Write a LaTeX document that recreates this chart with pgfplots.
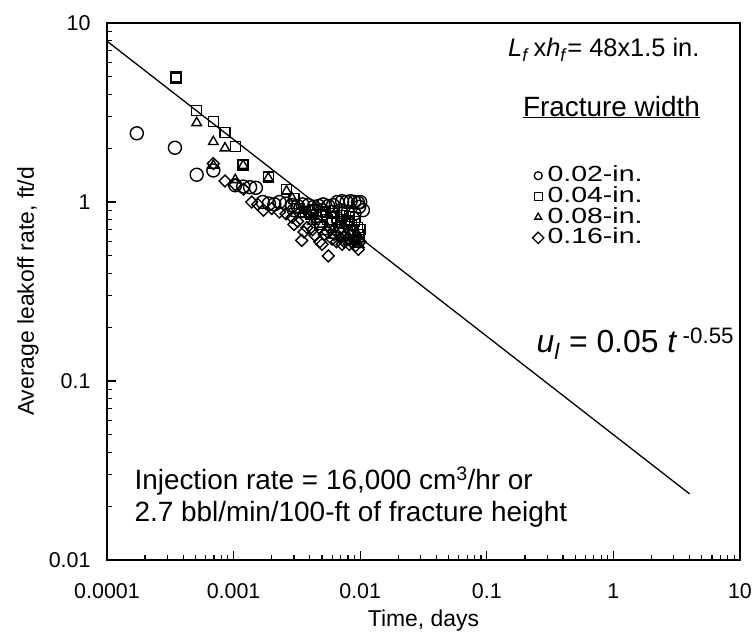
\documentclass[border=0pt]{standalone}
\usepackage{pgfplots}
\pgfplotsset{compat=1.18}
\usepackage{fontspec}
\setmainfont{Liberation Sans}
\newfontfamily\legfont[FakeStretch=1.3]{Liberation Sans}
\begin{document}
\begin{tikzpicture}
\begin{axis}[
  at={(0,0)}, anchor=south west,
  scale only axis, width=633bp, height=537bp,
  xmode=log, ymode=log,
  xmin=1e-4, xmax=10, ymin=0.01, ymax=10,
  xtick={1e-4,1e-3,1e-2,1e-1,1,10},
  xticklabels={0.0001,0.001,0.01,0.1,1,10},
  minor xtick={2e-4,3e-4,4e-4,5e-4,6e-4,7e-4,8e-4,9e-4,2e-3,3e-3,4e-3,5e-3,6e-3,7e-3,8e-3,9e-3,0.02,0.03,0.04,0.05,0.06,0.07,0.08,0.09,0.2,0.3,0.4,0.5,0.6,0.7,0.8,0.9,2,3,4,5,6,7,8,9},
  ytick={0.01,0.1,1,10},
  yticklabels={0.01,0.1,1,10},
  minor ytick={0.02,0.03,0.04,0.05,0.06,0.07,0.08,0.09,0.2,0.3,0.4,0.5,0.6,0.7,0.8,0.9,2,3,4,5,6,7,8,9},
  tick align=inside, xtick pos=bottom, ytick pos=left,
  major tick length=9bp, minor tick length=5bp,
  every tick/.style={black, line width=1.2bp},
  axis line style={line width=1.5bp},
  /pgf/number format/assume math mode=true,
  tick label style={font=\fontsize{21.5}{25}\selectfont},
  xticklabel style={yshift=-20bp},
  yticklabel style={xshift=-13bp},
  label style={font=\fontsize{23}{26}\selectfont},
  xlabel={Time, days},
  ylabel={Average leakoff rate, ft/d},
  xlabel style={at={(rel axis cs:0.5,-0.1136)}, anchor=center},
  ylabel style={at={(rel axis cs:-0.1248,0.5)}, anchor=center},
  legend style={draw=none, fill=none, at={(rel axis cs:0.672,0.7346)}, anchor=north west,
    font=\legfont\fontsize{22}{22}\selectfont, row sep=0.7bp, inner sep=0pt,
    nodes={inner sep=0pt, text height=16bp, text depth=4bp}},
  legend cell align=left,
  legend image code/.code={\draw[#1, mark size=4bp, line width=1.3bp] plot coordinates {(0.12cm,0cm)};},
  clip=false,
]
\addplot[only marks, mark=o, mark size=6.5bp, line width=1.4bp, black] coordinates {
(1.72e-4,2.42) (3.44e-4,2.01) (5.11e-4,1.42) (6.92e-4,1.50) (1.03e-3,1.24) (1.19e-3,1.22)
(1.35e-3,1.21) (1.5e-3,1.2) (1.7e-3,1.0) (1.9e-3,0.98) (2.1e-3,0.97) (2.3e-3,1.0)
(2.6e-3,0.98) (2.9e-3,0.96) (3.2e-3,0.95) (3.5e-3,0.97) (3.9e-3,0.96) (4.3e-3,0.94)
(4.7e-3,0.95) (5.1e-3,0.97) (5.6e-3,0.95) (6.1e-3,0.96) (6.6e-3,1.0) (7.2e-3,1.01)
(7.8e-3,1.0) (8.4e-3,1.01) (9.0e-3,1.0) (9.6e-3,0.99) (1.05e-2,0.90) (6.0e-3,0.88)
(7.0e-3,0.90) (8.0e-3,0.88) (9.0e-3,0.86) (3.0e-3,0.90) (4.0e-3,0.88) (5.0e-3,0.90)
(1.0e-2,1.0) (9.8e-3,0.94)};
\addlegendentry{\,0.02-in.}
\addplot[only marks, mark=square, mark size=5bp, line width=1.4bp, black] coordinates {
(3.5e-4,5.0) (3.5e-4,4.9) (5.11e-4,3.24) (6.92e-4,2.81) (8.55e-4,2.44) (1.04e-3,2.04)
(1.19e-3,1.61) (1.88e-3,1.38) (2.62e-3,1.17) (3.0e-3,1.05) (3.3e-3,0.92) (3.7e-3,0.88)
(4.1e-3,0.85) (4.5e-3,0.82) (5.0e-3,0.85) (5.5e-3,0.80) (6.0e-3,0.78) (6.5e-3,0.82)
(7.0e-3,0.80) (7.5e-3,0.76) (8.0e-3,0.79) (8.5e-3,0.75) (9.0e-3,0.78) (9.5e-3,0.72)
(1.0e-2,0.70) (4.3e-3,0.90) (5.3e-3,0.88) (6.2e-3,0.86) (7.2e-3,0.84) (8.2e-3,0.83)
(9.2e-3,0.82) (4.8e-3,0.75) (6.8e-3,0.72) (8.8e-3,0.70) (9.8e-3,0.66)};
\addlegendentry{\,0.04-in.}
\addplot[only marks, mark=triangle, mark size=5.5bp, line width=1.4bp, black] coordinates {
(5.11e-4,2.77) (6.92e-4,2.17) (8.55e-4,2.0) (6.92e-4,1.60) (1.03e-3,1.33) (1.19e-3,1.60)
(1.88e-3,1.36) (2.62e-3,1.15) (2.9e-3,1.05) (3.2e-3,0.95) (3.6e-3,0.90) (4.0e-3,0.85)
(4.5e-3,0.80) (5.0e-3,0.75) (5.5e-3,0.72) (6.0e-3,0.70) (6.5e-3,0.68) (7.0e-3,0.70)
(7.5e-3,0.66) (8.0e-3,0.65) (8.5e-3,0.68) (9.0e-3,0.64) (9.5e-3,0.66) (1.0e-2,0.62)
(3.4e-3,0.85) (4.2e-3,0.78) (5.2e-3,0.68) (6.2e-3,0.65) (7.2e-3,0.62) (8.2e-3,0.60)
(9.2e-3,0.60) (9.8e-3,0.58) (6.8e-3,0.75) (8.8e-3,0.72)};
\addlegendentry{\,0.08-in.}
\addplot[only marks, mark=square, mark options={rotate=45}, mark size=4.2bp, line width=1.4bp, black] coordinates {
(6.92e-4,1.64) (8.55e-4,1.31) (1.03e-3,1.25) (1.2e-3,1.18) (1.39e-3,1.0) (1.55e-3,0.97)
(1.72e-3,0.90) (2.0e-3,0.92) (2.3e-3,0.88) (2.6e-3,0.86) (2.9e-3,0.82) (3.2e-3,0.78)
(3.45e-3,0.61) (3.8e-3,0.72) (4.2e-3,0.70) (4.8e-3,0.60) (5.2e-3,0.66) (5.6e-3,0.50)
(6.0e-3,0.62) (6.5e-3,0.60) (7.0e-3,0.63) (7.5e-3,0.60) (8.0e-3,0.62) (8.5e-3,0.60)
(9.0e-3,0.61) (9.66e-3,0.544) (1.0e-2,0.60) (5.5e-3,0.68) (6.2e-3,0.66) (7.2e-3,0.58)
(8.2e-3,0.58) (9.2e-3,0.57) (3.0e-3,0.75) (3.6e-3,0.68) (4.4e-3,0.65) (5.0e-3,0.58)};
\addlegendentry{\,0.16-in.}
\addplot[black, line width=1.3bp, forget plot] coordinates {(1e-4,7.92) (4.0,0.0234)};
\node[anchor=base east, font=\fontsize{25.5}{28}\selectfont] at (rel axis cs:0.9415,0.9367)
  {\textit{L}\textsubscript{\textit{f}}\,x\textit{h}\textsubscript{\textit{f}}= 48x1.5 in.};
\node[anchor=base, font=\fontsize{28}{30}\selectfont] at (rel axis cs:0.797,0.8268) {\underline{Fracture width}};
\node[anchor=base west, font=\fontsize{32}{36}\selectfont] at (rel axis cs:0.673,0.387)
  {\textit{u}\textsubscript{\textit{l}} = 0.05 \textit{t}\,\textsuperscript{-0.55}};
\node[anchor=base west, font=\fontsize{28}{30}\selectfont] at (rel axis cs:0.038,0.1322)
  {Injection rate = 16,000 cm\textsuperscript{3}/hr or};
\node[anchor=base west, font=\fontsize{28}{30}\selectfont] at (rel axis cs:0.038,0.0708)
  {2.7 bbl/min/100-ft of fracture height};
\end{axis}
\pgfresetboundingbox
\useasboundingbox (-107bp,-78bp) rectangle (648bp,560bp);
\end{tikzpicture}
\end{document}
